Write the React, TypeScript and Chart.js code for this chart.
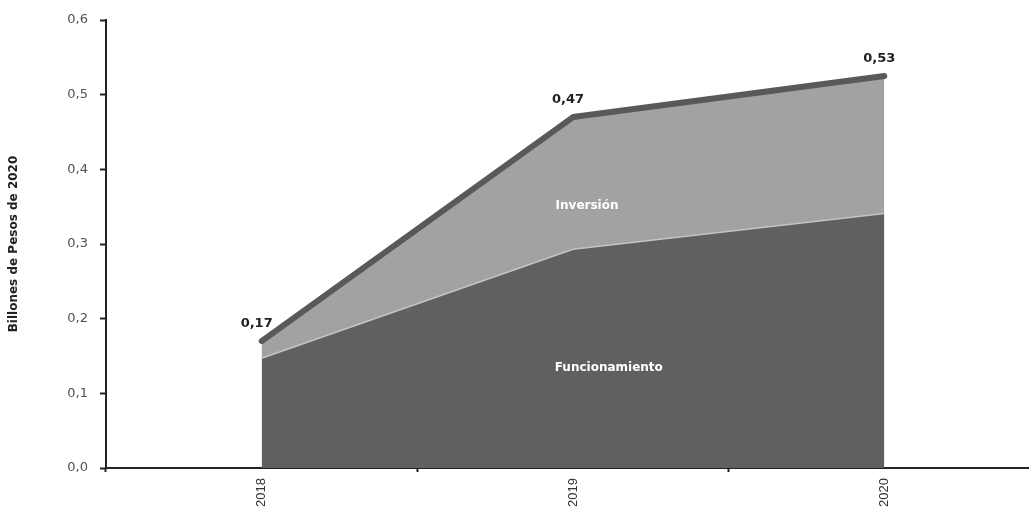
import React, { useEffect, useRef } from "react";
import { Chart, registerables } from "chart.js";

Chart.register(...registerables);

const years = ["2018", "2019", "2020"];
const funcionamiento = [0.147, 0.293, 0.341];
const inversion = [0.023, 0.177, 0.184];
const total = [0.17, 0.47, 0.525];
const totalLabels = ["0,17", "0,47", "0,53"];
const yTicks = [0, 0.1, 0.2, 0.3, 0.4, 0.5, 0.6];
const yTitle = "Billones de Pesos de 2020";

const FONT = "'DejaVu Sans', 'Open Sans', sans-serif";

const labelPlugin = {
  id: "labelPlugin",
  afterDatasetsDraw(chart: any) {
    const { ctx, scales } = chart;
    const x = scales.x;
    const y = scales.y;
    ctx.save();
    ctx.font = `bold 13px ${FONT}`;
    ctx.fillStyle = "#1e1e1e";
    ctx.textAlign = "center";
    ctx.textBaseline = "middle";
    total.forEach((v, i) => {
      ctx.fillText(totalLabels[i], x.getPixelForValue(i) - 5, y.getPixelForValue(v) - 17);
    });
    ctx.fillStyle = "#ffffff";
    ctx.font = `bold 12px ${FONT}`;
    ctx.fillText("Inversión", x.getPixelForValue(1.045), y.getPixelForValue(0.351));
    ctx.fillText("Funcionamiento", x.getPixelForValue(1.115), y.getPixelForValue(0.134));
    ctx.restore();
  },
};

export default function App() {
  const ref = useRef<HTMLCanvasElement | null>(null);
  useEffect(() => {
    if (!ref.current) return;
    const chart = new Chart(ref.current, {
      type: "line",
      data: {
        labels: years,
        datasets: [
          {
            label: "Funcionamiento",
            data: funcionamiento,
            stack: "a",
            fill: "origin",
            backgroundColor: "#606060",
            borderColor: "#c4c4c4",
            borderWidth: 1.5,
            pointRadius: 0,
            tension: 0,
            order: 1,
          },
          {
            label: "Inversión",
            data: inversion,
            stack: "a",
            fill: "-1",
            backgroundColor: "#a2a2a2",
            borderColor: "rgba(0,0,0,0)",
            borderWidth: 0,
            pointRadius: 0,
            tension: 0,
            order: 1,
          },
          {
            label: "Total",
            data: total,
            stack: "b",
            fill: false,
            borderColor: "#595959",
            borderWidth: 6,
            borderCapStyle: "round",
            borderJoinStyle: "round",
            pointRadius: 0,
            tension: 0,
            order: 0,
          },
        ],
      },
      options: {
        animation: false,
        responsive: false,
        maintainAspectRatio: false,
        layout: { padding: { top: 20, left: 0, right: 0, bottom: 0 } },
        plugins: {
          legend: { display: false },
          tooltip: { enabled: false },
        },
        scales: {
          x: {
            type: "category",
            offset: true,
            grid: {
              display: true,
              offset: true,
              drawOnChartArea: false,
              drawTicks: true,
              tickLength: 4,
              tickWidth: 2,
              tickColor: "#222",
            },
            border: { display: true, color: "#222", width: 2 },
            ticks: {
              minRotation: 90,
              maxRotation: 90,
              padding: 6,
              color: "#333",
              font: { family: "'Liberation Sans', Arial, sans-serif", size: 13 },
            },
            afterFit(scale: any) {
              scale.height = 39;
            },
          },
          y: {
            stacked: true,
            min: 0,
            max: 0.6,
            afterBuildTicks(scale: any) {
              scale.ticks = yTicks.map((v) => ({ value: v }));
            },
            ticks: {
              padding: 12,
              color: "#505050",
              font: { family: FONT, size: 13 },
              callback: (v: any) => Number(v).toFixed(1).replace(".", ","),
            },
            grid: {
              display: true,
              drawOnChartArea: false,
              drawTicks: true,
              tickLength: 6,
              tickWidth: 2,
              tickColor: "#222",
            },
            border: { display: true, color: "#222", width: 2 },
            title: {
              display: true,
              text: yTitle,
              color: "#222",
              font: { family: FONT, size: 12, weight: "bold" },
              padding: { top: 7, bottom: 0 },
            },
            afterFit(scale: any) {
              scale.width = 106;
            },
          },
        },
      },
      plugins: [labelPlugin],
    } as any);
    return () => chart.destroy();
  }, []);
  return (
    <div
      style={{
        position: "fixed",
        left: 0,
        top: 0,
        width: 1029,
        height: 507,
        overflow: "hidden",
        background: "#fff",
      }}
    >
      <canvas ref={ref} width={1040} height={507} style={{ display: "block" }} />
    </div>
  );
}
